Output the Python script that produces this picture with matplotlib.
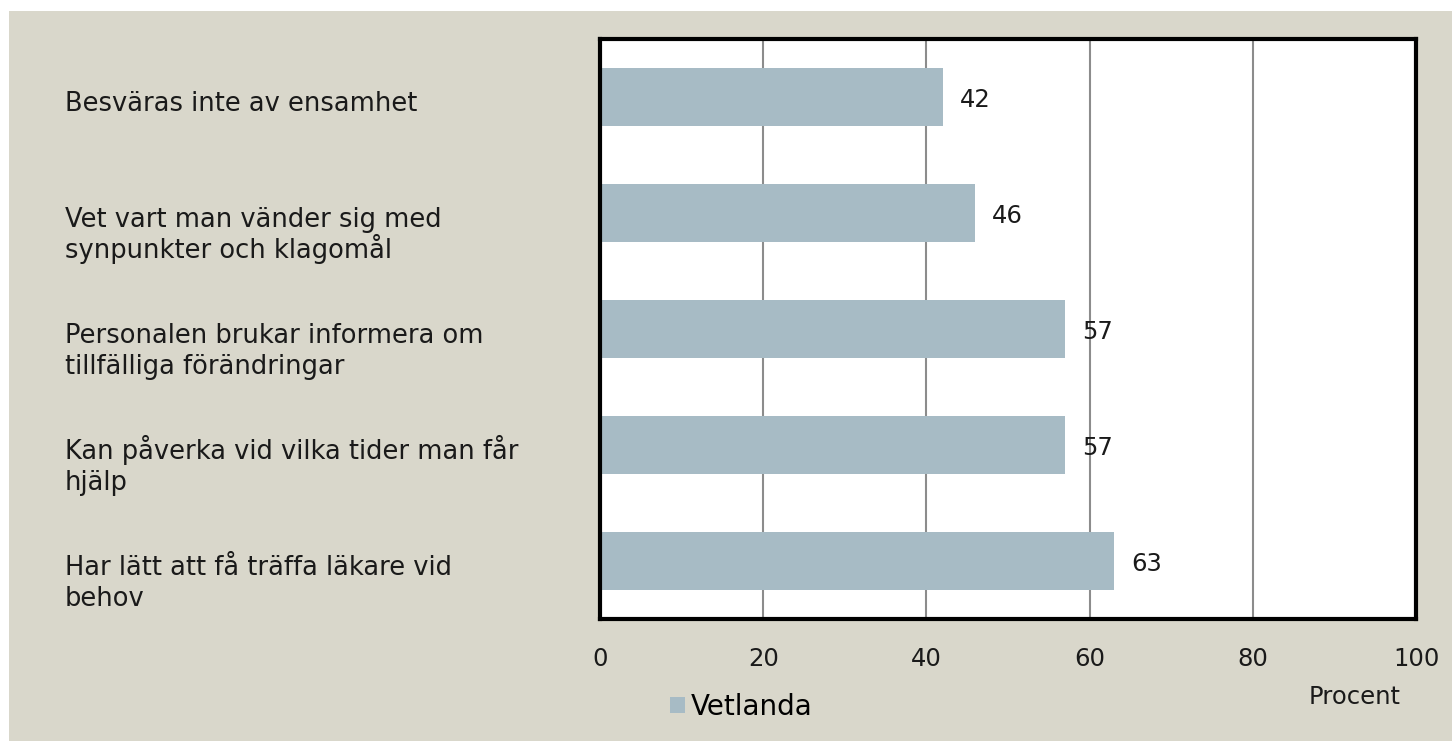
import matplotlib.pyplot as plt
import matplotlib.transforms as mtransforms
from matplotlib.patches import Rectangle, Patch

categories = [
    "Besväras inte av ensamhet",
    "Vet vart man vänder sig med\nsynpunkter och klagomål",
    "Personalen brukar informera om\ntillfälliga förändringar",
    "Kan påverka vid vilka tider man får\nhjälp",
    "Har lätt att få träffa läkare vid\nbehov",
]
values = [42, 46, 57, 57, 63]
series_name = "Vetlanda"
xticks = [0, 20, 40, 60, 80, 100]

bg = "#d9d7cb"
bar_color = "#a7bbc5"
font = "DejaVu Sans"
fs = 17.5
lab_fs = 18.5
txt_col = "#1a1a1a"

fig = plt.figure(figsize=(14.52, 7.41), dpi=100, facecolor="white")
fig.patches.append(Rectangle((9 / 1452, 0), 1, 1 - 11 / 741,
                             transform=fig.transFigure, facecolor=bg,
                             edgecolor="none", zorder=-10))

ax = fig.add_axes([600 / 1452, 1 - 619 / 741, 816 / 1452, 580 / 741])
ax.set_facecolor("white")

y = list(range(len(categories)))
ax.barh(y, values, height=0.5, color=bar_color, zorder=2)
ax.set_ylim(len(categories) - 0.5, -0.5)
ax.set_xlim(0, 100)

for v in xticks[1:-1]:
    ax.axvline(v, color="#8c8c8c", lw=1.5, zorder=1)

for sp in ax.spines.values():
    sp.set_linewidth(3)
    sp.set_color("black")

ax.set_yticks([])
ax.set_xticks(xticks)
ax.tick_params(axis="x", length=0, pad=20, labelsize=fs)
for lbl in ax.get_xticklabels():
    lbl.set_family(font)
    lbl.set_color(txt_col)

# value labels
for yi, v in zip(y, values):
    off = mtransforms.offset_copy(ax.transData, fig=fig, x=17, y=-3, units="dots")
    ax.text(v, yi, str(v), transform=off, ha="left", va="center",
            fontsize=fs, family=font, color=txt_col)

# category labels, one text per line so every first line sits at the same baseline
line_gap = 31
for yi, c in zip(y, categories):
    for k, line in enumerate(c.split("\n")):
        tr = mtransforms.blended_transform_factory(fig.transFigure, ax.transData)
        tr = tr + mtransforms.ScaledTranslation(0, -(14 + k * line_gap) / 100,
                                                fig.dpi_scale_trans)
        ax.text(65 / 1452, yi, line, transform=tr, ha="left", va="baseline",
                fontsize=lab_fs, family=font, color=txt_col)

fig.text(1355 / 1452, 1 - 697 / 741, "Procent", ha="center", va="center",
         fontsize=fs, family=font, color=txt_col)

handles = [Patch(facecolor=bar_color, label=series_name)]
fig.legend(handles=handles, loc="center left", bbox_to_anchor=(645 / 1452, 1 - 707 / 741),
           frameon=False, handlelength=0.54, handleheight=0.54,
           handletextpad=0.22, prop={"family": "DejaVu Sans", "size": 20})

fig.savefig("out.png", dpi=100, facecolor=fig.get_facecolor())
